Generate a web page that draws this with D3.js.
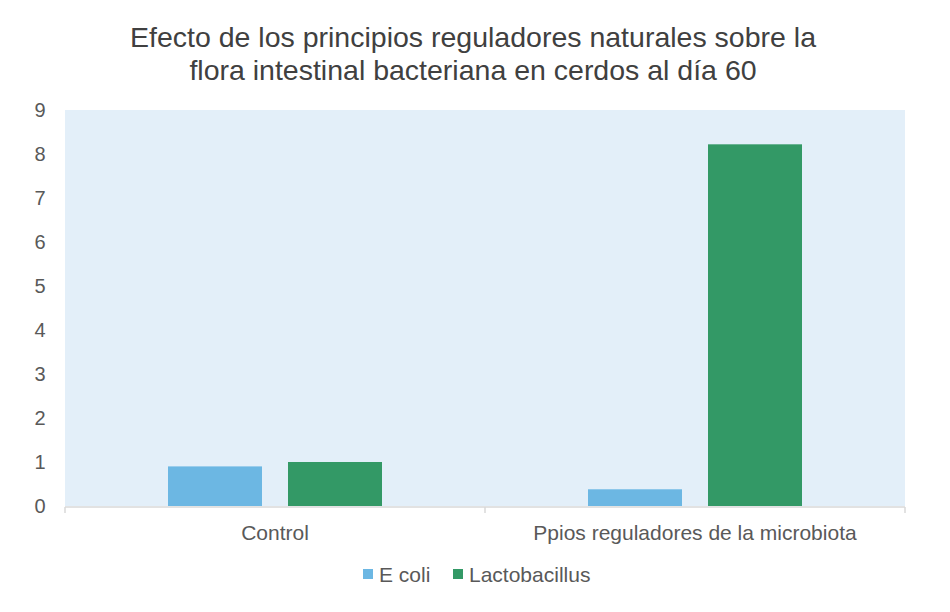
<!DOCTYPE html>
<html>
<head>
<meta charset="utf-8">
<script src="https://cdn.jsdelivr.net/npm/d3@7"></script>
<style>
  body { margin: 0; background: #fff; }
  text { font-family: 'Liberation Sans', Arial, sans-serif; fill: #595959; }
</style>
</head>
<body>
<svg width="950" height="612"></svg>
<script>
'use strict'

const categories = ['Control', 'Ppios reguladores de la microbiota']
const seriesNames = ['E coli', 'Lactobacillus']
const ecoli = [0.9, 0.38]
const lactobacillus = [1.0, 8.22]
const yTicks = [0, 1, 2, 3, 4, 5, 6, 7, 8, 9]
const titleLines = [
  'Efecto de los principios reguladores naturales sobre la',
  'flora intestinal bacteriana en cerdos al día 60'
]

const colors = { 'E coli': '#6cb7e3', 'Lactobacillus': '#339966' }

const margin = { top: 110, right: 45, bottom: 106, left: 65 }
const width = 950 - margin.left - margin.right,
  height = 612 - margin.top - margin.bottom

const svg = d3.select('svg')

// title
svg
  .append('g')
  .selectAll('text')
  .data(titleLines)
  .enter()
  .append('text')
  .attr('x', 473)
  .attr('y', (d, i) => 47 + i * 33)
  .attr('text-anchor', 'middle')
  .style('font-size', '28.5px')
  .style('fill', '#404040')
  .text(d => d)

const group = svg
  .append('g')
  .attr('transform', 'translate(' + margin.left + ',' + margin.top + ')')

group
  .append('rect')
  .attr('width', width)
  .attr('height', height)
  .attr('fill', '#e3eff9')

const x0 = d3
  .scaleBand()
  .domain(categories)
  .range([0, width])

const x1 = d3
  .scaleBand()
  .domain(seriesNames)
  .range([103, 317])
  .paddingInner(0.2167)

const y = d3
  .scaleLinear()
  .domain([0, 9])
  .range([height, 0])

const rows = categories.map((c, i) => ({
  category: c,
  values: [
    { name: 'E coli', value: ecoli[i] },
    { name: 'Lactobacillus', value: lactobacillus[i] }
  ]
}))

group
  .selectAll('.cat')
  .data(rows)
  .enter()
  .append('g')
  .attr('class', 'cat')
  .attr('transform', d => 'translate(' + x0(d.category) + ',0)')
  .selectAll('rect')
  .data(d => d.values)
  .enter()
  .append('rect')
  .attr('x', d => x1(d.name))
  .attr('y', d => y(d.value))
  .attr('width', x1.bandwidth())
  .attr('height', d => height - y(d.value))
  .attr('fill', d => colors[d.name])

// y axis labels
group
  .append('g')
  .selectAll('text')
  .data(yTicks)
  .enter()
  .append('text')
  .attr('x', -25)
  .attr('y', d => y(d))
  .attr('dy', '0.36em')
  .attr('text-anchor', 'middle')
  .style('font-size', '20px')
  .text(d => d)

// x axis line + ticks at category boundaries
const xAxis = group.append('g').attr('transform', 'translate(0,' + (height + 1) + ')')
xAxis
  .append('line')
  .attr('x1', 0)
  .attr('x2', width)
  .attr('stroke', '#d9d9d9')
  .attr('stroke-width', 1.5)
xAxis
  .selectAll('.tick')
  .data([0, ...categories.map(c => x0(c) + x0.bandwidth())])
  .enter()
  .append('line')
  .attr('x1', d => d)
  .attr('x2', d => d)
  .attr('y1', 0)
  .attr('y2', 6)
  .attr('stroke', '#d9d9d9')
  .attr('stroke-width', 1.5)
xAxis
  .selectAll('text')
  .data(categories)
  .enter()
  .append('text')
  .attr('x', d => x0(d) + x0.bandwidth() / 2)
  .attr('y', 33)
  .attr('text-anchor', 'middle')
  .style('font-size', '21px')
  .text(d => d)

// legend
const legend = svg.append('g').attr('transform', 'translate(0,575)')
const legendX = [363, 453]
seriesNames.forEach((name, i) => {
  legend
    .append('rect')
    .attr('x', legendX[i])
    .attr('y', -6)
    .attr('width', 10)
    .attr('height', 10)
    .attr('fill', colors[name])
  legend
    .append('text')
    .attr('x', legendX[i] + 16)
    .attr('y', 0)
    .attr('dy', '0.35em')
    .style('font-size', '21px')
    .text(name)
})
</script>
</body>
</html>
